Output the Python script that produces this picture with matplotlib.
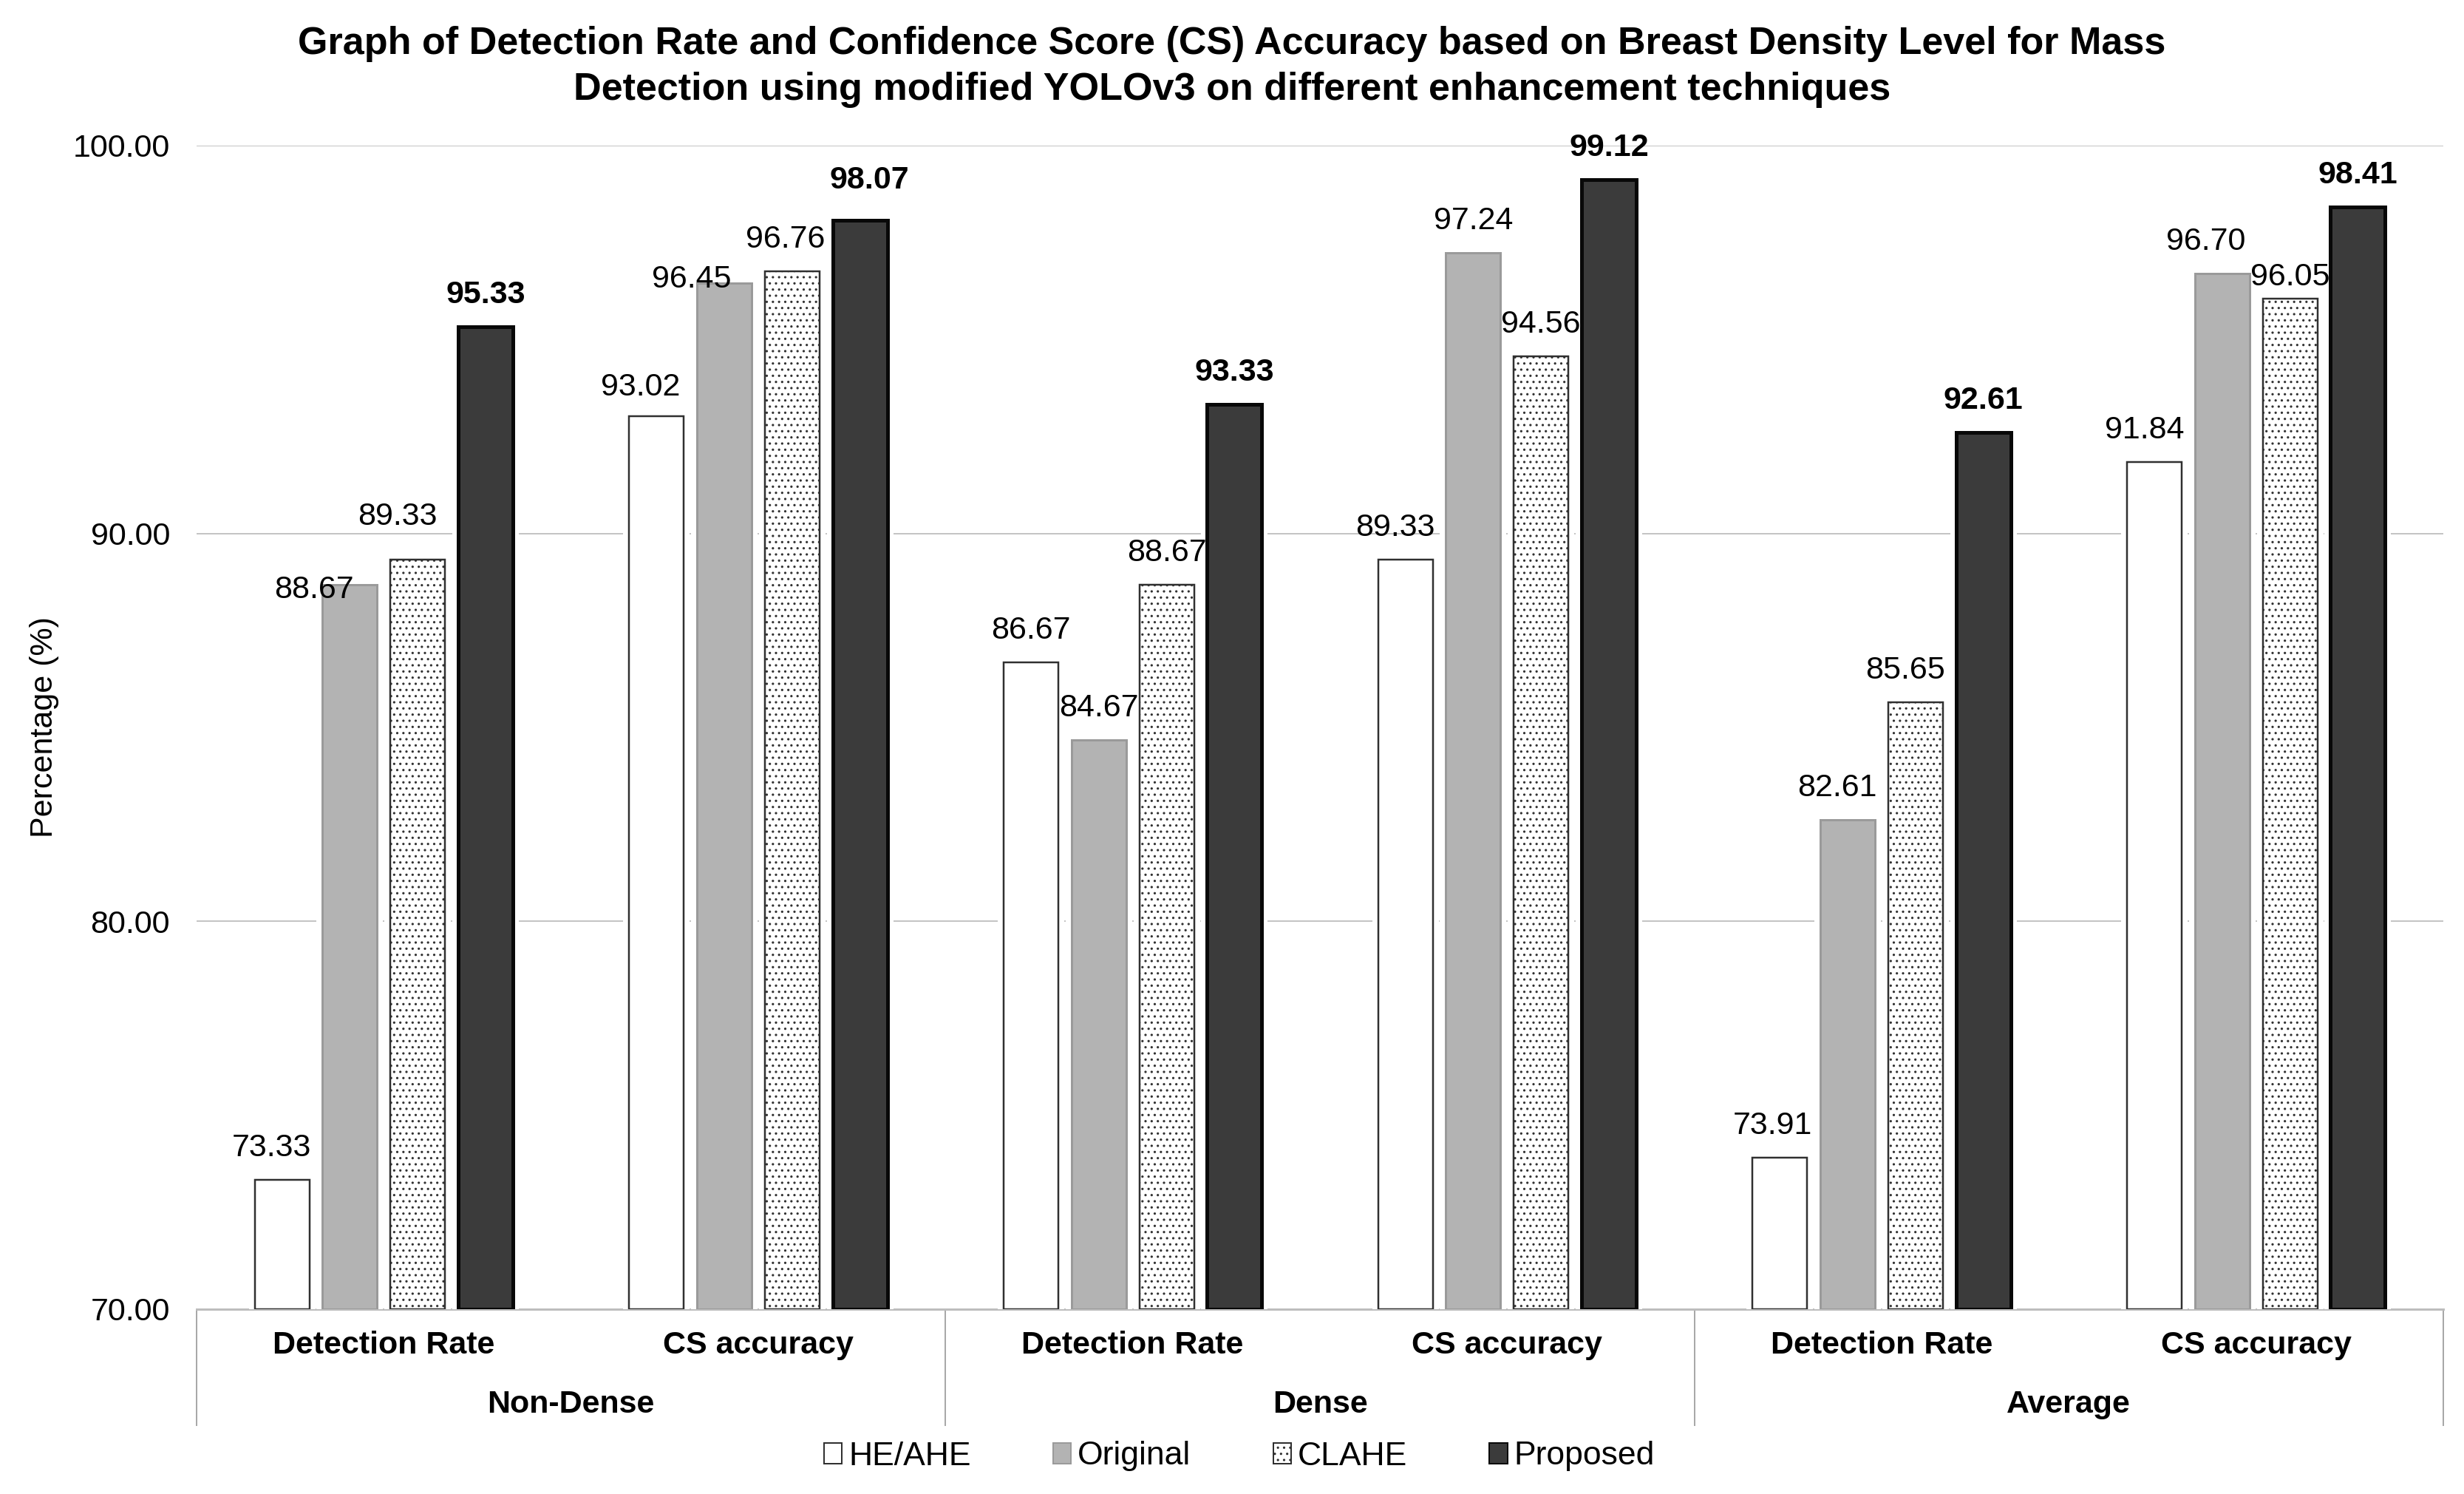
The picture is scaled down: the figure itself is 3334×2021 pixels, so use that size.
import matplotlib
matplotlib.use('Agg')
import matplotlib.pyplot as plt
import matplotlib.patheffects as pe
from matplotlib.patches import Patch
from matplotlib.transforms import blended_transform_factory
from matplotlib.ticker import FormatStrFormatter
import numpy as np

plt.rcParams['font.family'] = ['Liberation Sans', 'DejaVu Sans']
plt.rcParams['hatch.color'] = '#454545'
plt.rcParams['hatch.linewidth'] = 1.1

# ---------------- data ----------------
title = ("Graph of Detection Rate and Confidence Score (CS) Accuracy based on Breast Density Level for Mass\n"
         "Detection using modified YOLOv3 on different enhancement techniques")
groups = ['Non-Dense', 'Dense', 'Average']
metrics = ['Detection Rate', 'CS accuracy']
series_names = ['HE/AHE', 'Original', 'CLAHE', 'Proposed']
he_ahe = [73.33, 93.02, 86.67, 89.33, 73.91, 91.84]
original = [88.67, 96.45, 84.67, 97.24, 82.61, 96.70]
clahe = [89.33, 96.76, 88.67, 94.56, 85.65, 96.05]
proposed = [95.33, 98.07, 93.33, 99.12, 92.61, 98.41]
y_ticks = [70, 80, 90, 100]
y_label = 'Percentage (%)'

# ---------------- styles ----------------
W, H = 3334, 2021
PX = 72.0 / 100.0  # points per pixel at dpi 100
styles = [
    dict(facecolor='white', edgecolor='#303030', linewidth=2.5 * PX, hatch=None),
    dict(facecolor='#b3b3b3', edgecolor='#9a9a9a', linewidth=3 * PX, hatch=None),
    dict(facecolor='white', edgecolor='#303030', linewidth=2.5 * PX, hatch='..'),
    dict(facecolor='#3b3b3b', edgecolor='#080808', linewidth=5 * PX, hatch=None),
]
bold_series = [False, False, False, True]
# manual label nudges (pixels): (series, category) -> (dx, dy)
label_nudge = {
    (0, 0): (-14, 0), (1, 0): (-49, -50), (2, 0): (-27, 15),
    (0, 1): (-22, -4), (1, 1): (-44, -38), (2, 1): (-9, 0), (3, 1): (13, 11),
    (0, 3): (-14, 0),
    (0, 4): (-10, 0), (1, 4): (-14, 0), (2, 4): (-14, 0),
    (0, 5): (-13, 0), (1, 5): (-22, 0), (2, 5): (0, -14),
}

fig = plt.figure(figsize=(W / 100, H / 100), dpi=100)
ax = fig.add_axes([266 / W, (H - 1771) / H, 3040 / W, 1574 / H])

values = [he_ahe, original, clahe, proposed]
n_cat = len(he_ahe)
x = np.arange(n_cat)
pitch = 0.181
bar_w = 0.146

for s, (vals, st) in enumerate(zip(values, styles)):
    xs = x + (s - 1.5) * pitch
    bars = ax.bar(xs, np.array(vals) - 70, bottom=70, width=bar_w,
                  facecolor=st['facecolor'], edgecolor=st['edgecolor'],
                  linewidth=st['linewidth'], hatch=st['hatch'], zorder=3)
    for b in bars:
        b.set_path_effects([pe.Stroke(linewidth=16 * PX, foreground='white'), pe.Normal()])
    for c, (xx, v) in enumerate(zip(xs, vals)):
        dx, dy = label_nudge.get((s, c), (0, 0))
        ax.annotate(f'{v:.2f}', xy=(xx, v), xytext=(dx * PX, (43 + dy) * PX),
                    textcoords='offset points', ha='center', va='center',
                    fontsize=31, fontweight='bold' if bold_series[s] else 'normal',
                    color='black', zorder=5, annotation_clip=False)

ax.set_xlim(-0.5, n_cat - 0.5)
ax.set_ylim(y_ticks[0], y_ticks[-1])
ax.set_yticks(y_ticks)
ax.yaxis.set_major_formatter(FormatStrFormatter('%.2f'))
ax.tick_params(axis='y', length=0, pad=36 * PX, labelsize=31)
ax.set_xticks([])
ax.yaxis.grid(True, color='#c4c4c4', linewidth=2 * PX, zorder=0)
ax.set_axisbelow(True)
for sp in ['top', 'right', 'left']:
    ax.spines[sp].set_visible(False)
ax.spines['bottom'].set_color('#bdbdbd')
ax.spines['bottom'].set_linewidth(3 * PX)
ax.spines['bottom'].set_zorder(2)

trans = blended_transform_factory(ax.transData, ax.transAxes)
for i in range(n_cat):
    ax.text(i, -0.0311, metrics[i % 2], transform=trans, ha='center', va='center',
            fontsize=31, fontweight='bold')
for g, name in enumerate(groups):
    ax.text(2 * g + 0.5, -0.082, name, transform=trans, ha='center', va='center',
            fontsize=31, fontweight='bold')
for xb in np.arange(-0.5, n_cat, 2):
    ax.plot([xb, xb], [0, -0.0997], transform=trans, color='#a8a8a8',
            linewidth=2 * PX, clip_on=False)

fig.text(60 / W, 1 - 984 / H, y_label, rotation=90, ha='center', va='center', fontsize=31)

fig.text(0.5, 1 - 90.5 / H, title, ha='center', va='center', fontsize=37.5,
         fontweight='bold', linespacing=1.35)

handles = [Patch(facecolor=st['facecolor'], edgecolor=st['edgecolor'],
                 linewidth=2 * PX, hatch=st['hatch']) for st in styles]
fig.legend(handles, series_names, loc='center', bbox_to_anchor=(0.503, 1 - 1970 / H),
           ncol=4, frameon=False, fontsize=32, handlelength=0.55, handleheight=0.6,
           handletextpad=0.2, columnspacing=2.5)

fig.savefig('out.png', dpi=100, facecolor='white')
